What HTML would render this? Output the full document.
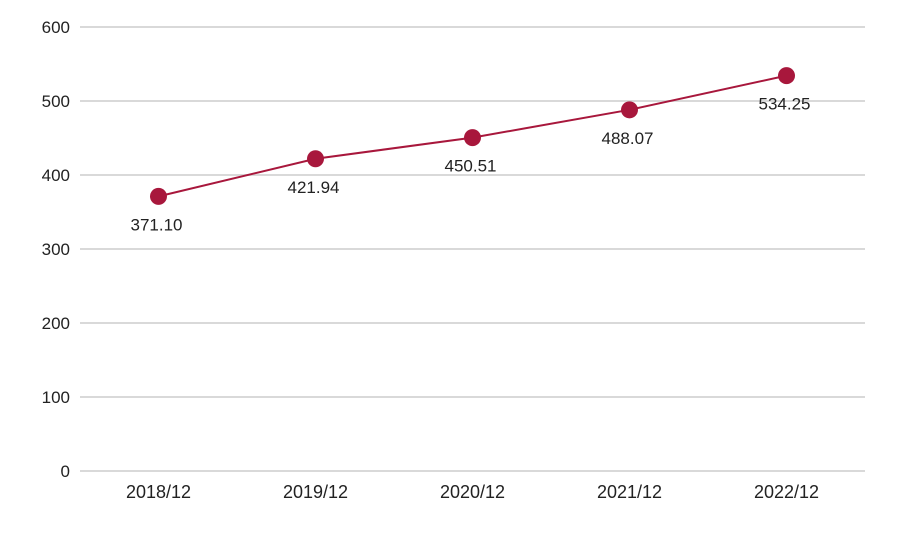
<!DOCTYPE html>
<html><head><meta charset="utf-8"><style>
html,body{margin:0;padding:0;background:#fff;}
svg{display:block;font-family:"Liberation Sans",sans-serif;}
</style></head><body>
<svg id="chart" width="900" height="556"></svg>
<script>
const categories=["2018/12","2019/12","2020/12","2021/12","2022/12"];
const values=[371.10,421.94,450.51,488.07,534.25];
const valueLabels=["371.10","421.94","450.51","488.07","534.25"];
const yTicks=[0,100,200,300,400,500,600];
const svg=document.getElementById('chart');
const NS='http://www.w3.org/2000/svg';
const x0=80,x1=865,y0=471,y1=27,yMax=600;
const step=(x1-x0)/categories.length;
const xs=i=>x0+step*(i+0.5);
const ys=v=>y0-(v/yMax)*(y0-y1);
function mk(t,a){const e=document.createElementNS(NS,t);for(const k in a)e.setAttribute(k,a[k]);svg.appendChild(e);return e;}
yTicks.forEach(t=>{
const l=mk('line',{x1:x0,x2:x1,y1:ys(t),y2:ys(t),stroke:'#d9d9d9','stroke-width':2});


const tx=mk('text',{x:70,y:ys(t)+6,'text-anchor':'end','font-size':17,fill:'#222'});
tx.textContent=t;


});
categories.forEach((c,i)=>{
const tx=mk('text',{x:xs(i),y:498,'text-anchor':'middle','font-size':18,fill:'#222'});
tx.textContent=c;


});
const pl=mk('polyline',{points:values.map((v,i)=>xs(i)+','+ys(v)).join(' '),fill:'none',stroke:'#a8173c','stroke-width':2});


values.forEach((v,i)=>{
const c=mk('circle',{cx:xs(i),cy:ys(v),r:8.5,fill:'#a8173c'});


const tx=mk('text',{x:xs(i)-2,y:ys(v)+34,'text-anchor':'middle','font-size':17,fill:'#222'});
tx.textContent=valueLabels[i];


});
</script>
</body></html>
